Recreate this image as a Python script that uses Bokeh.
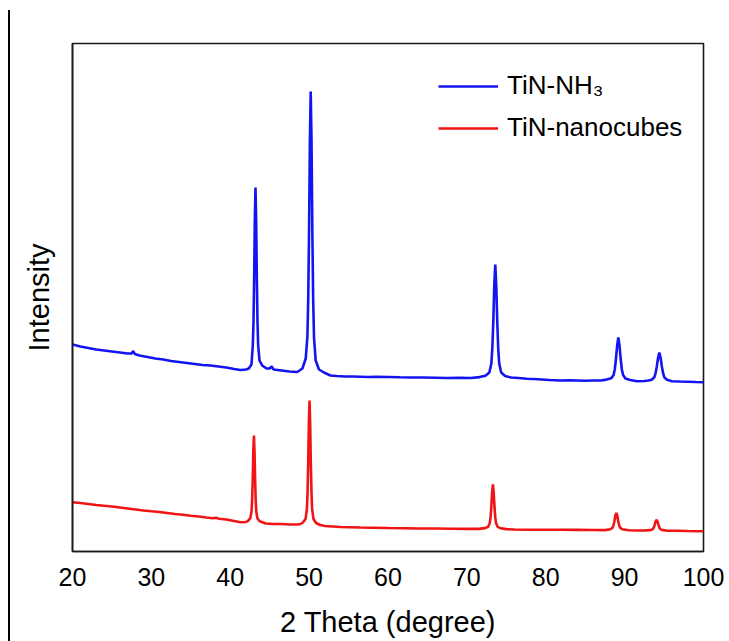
from bokeh.plotting import figure
from bokeh.models import Range1d, FixedTicker, Legend, LegendItem, Div
from bokeh.layouts import row
from bokeh.embed import file_html
from bokeh.resources import INLINE

# XRD patterns: 2-theta (degree) and intensity (a.u.)
nh3_two_theta = [
    20.0, 21.0, 22.0, 23.0, 24.0, 25.0, 26.0, 27.0, 27.5, 27.7, 27.9, 28.5, 29.5,
    30.5, 31.5, 32.5, 33.5, 34.5, 35.5, 36.5, 37.5, 38.5, 39.5, 40.5, 41.3, 42.0,
    42.35, 42.69, 42.86, 42.945, 43.03, 43.115, 43.2, 43.285, 43.37, 43.455, 43.54,
    43.71, 44.05, 44.6, 45.0, 45.25, 45.5, 46.5, 47.5, 48.5,
    49.15, 49.57, 49.78, 49.885, 49.99, 50.095, 50.2, 50.305, 50.41, 50.515, 50.62,
    50.83, 51.25, 51.88, 52.7, 53.5, 54.5, 55.5, 56.5, 57.5, 58.5, 60.0, 61.5, 63.0,
    64.5, 66.0, 67.5, 69.0, 70.5, 71.6,
    72.35, 72.85, 73.1, 73.225, 73.35, 73.475, 73.6, 73.725, 73.85, 73.975, 74.1,
    74.35, 74.85, 75.6, 76.5, 77.6, 78.5, 79.5, 80.5, 81.9, 83.0, 84.0, 85.0, 86.0,
    87.0, 87.7, 88.3, 88.6, 88.75, 88.9, 89.05, 89.2, 89.35, 89.5, 89.65, 89.8, 90.1,
    90.7, 91.6, 92.5, 93.0, 93.425, 93.75, 93.91, 94.075, 94.24, 94.4, 94.56, 94.725,
    94.89, 95.05, 95.375, 96.0, 97.0, 98.0, 99.0, 100.0,
]
nh3_intensity = [
    207.0, 205.0, 203.5, 202.0, 201.0, 200.0, 199.0, 198.0, 198.0, 200.5, 197.5, 196.0, 194.5,
    193.0, 192.0, 190.5, 189.5, 188.5, 187.5, 186.5, 186.0, 185.0, 184.0, 182.5, 181.5, 182.0,
    183.0, 187.0, 206.0, 229.0, 273.0, 331.0, 364.0, 331.0, 273.0, 229.0, 206.0,
    191.0, 186.0, 183.0, 183.0, 185.0, 182.0, 181.0, 180.0, 179.5,
    183.0, 193.0, 215.0, 252.0, 319.0, 409.0, 460.0, 409.0, 319.0, 251.0, 214.0,
    191.0, 182.0, 179.0, 176.0, 175.5, 175.0, 175.0, 174.8, 174.5, 174.8, 174.5, 174.2, 174.0,
    174.0, 173.8, 173.5, 173.7, 173.5, 174.4,
    175.8, 179.0, 188.0, 203.0, 230.0, 266.0, 287.0, 266.0, 230.0, 203.0, 188.0,
    179.0, 175.5, 174.0, 173.5, 172.7, 172.5, 172.0, 171.5, 171.0, 171.2, 171.0, 170.8, 171.0,
    171.0, 171.9, 173.2, 176.6, 182.0, 192.5, 206.0, 214.0, 206.0, 192.5, 182.0, 176.6, 173.0,
    171.5, 170.3, 170.5, 171.0, 171.7, 174.0, 177.8, 184.7, 193.8, 199.0, 193.8, 184.7,
    177.8, 174.0, 171.7, 170.3, 170.0, 169.8, 169.5, 169.3,
]

cubes_two_theta = [
    20.0, 21.0, 22.0, 23.0, 24.0, 25.0, 26.0, 27.0, 28.0, 29.0, 30.0, 31.0, 32.0,
    33.0, 34.0, 35.0, 36.0, 37.0, 37.8, 38.2, 38.6, 39.5, 40.5, 41.3, 42.0,
    42.25, 42.55, 42.7, 42.775, 42.85, 42.925, 43.0, 43.075, 43.15, 43.225, 43.3,
    43.45, 43.75, 44.5, 45.5, 46.5, 47.5, 48.5, 48.9,
    49.225, 49.555, 49.72, 49.8, 49.885, 49.97, 50.05, 50.13, 50.215, 50.3, 50.38,
    50.545, 50.875, 51.4, 52.0, 53.0, 54.0, 55.2, 56.5, 58.0, 60.0, 62.0, 64.0,
    66.0, 68.0, 70.0, 71.5,
    72.3, 72.7, 72.9, 73.0, 73.1, 73.2, 73.3, 73.4, 73.5, 73.6, 73.7, 73.9, 74.3,
    75.0, 76.0, 78.0, 80.0, 82.0, 84.0, 86.0, 87.5,
    88.2, 88.45, 88.575, 88.7, 88.825, 88.95, 89.075, 89.2, 89.325, 89.45, 89.7,
    90.5, 91.5, 92.5, 93.3, 93.55, 93.675, 93.8, 93.925, 94.05, 94.175, 94.3,
    94.425, 94.55, 94.8, 95.5, 96.5, 98.0, 100.0,
]
cubes_intensity = [
    49.3, 48.5, 47.5, 46.5, 45.8, 45.0, 44.0, 43.0, 42.0, 41.0, 40.2, 39.5, 38.5,
    37.5, 36.7, 35.8, 35.0, 34.0, 33.3, 33.8, 32.8, 32.0, 30.5, 29.3, 29.5,
    30.7, 33.4, 40.3, 51.6, 72.5, 100.3, 116.0, 100.3, 72.5, 51.6, 40.0,
    33.0, 30.2, 28.0, 27.5, 27.5, 27.0, 27.0, 27.5,
    29.0, 32.7, 42.7, 59.0, 88.5, 128.5, 151.0, 128.5, 88.5, 59.0, 42.7,
    32.7, 28.5, 26.5, 25.5, 25.0, 24.5, 24.3, 24.0, 23.8, 23.5, 23.3, 23.0,
    23.0, 22.7, 22.6, 22.6,
    23.4, 24.7, 28.3, 34.1, 44.8, 59.0, 67.0, 59.0, 44.8, 34.1, 28.3, 24.7, 23.2,
    22.4, 22.0, 21.8, 21.7, 21.7, 21.6, 21.5, 21.4,
    22.2, 23.6, 25.8, 30.0, 35.6, 38.7, 35.6, 30.0, 25.8, 23.6, 22.2,
    21.2, 21.0, 21.0, 21.4, 22.2, 23.6, 26.3, 29.8, 31.7, 29.8, 26.3,
    23.6, 22.2, 21.4, 20.8, 20.7, 20.5, 20.3,
]

series_labels = ["TiN-NH\u2083", "TiN-nanocubes"]
series_colors = ["#1414F0", "#F01414"]
x_ticks = [20, 30, 40, 50, 60, 70, 80, 90, 100]

FONT = "Liberation Sans"

p = figure(
    width=717, height=641,
    x_range=Range1d(20, 100), y_range=Range1d(0, 508),
    output_backend="svg", toolbar_location=None,
    min_border_left=60, min_border_right=26,
    min_border_top=43, min_border_bottom=90,
)
p.background_fill_color = "white"
p.border_fill_color = "white"
p.grid.visible = False
p.outline_line_color = "#1a1a1a"
p.outline_line_width = 1.6

r_nh3 = p.line(nh3_two_theta, nh3_intensity, line_color=series_colors[0], line_width=2.6)
r_cubes = p.line(cubes_two_theta, cubes_intensity, line_color=series_colors[1], line_width=2.6)

# x axis: labels only, no tick marks
xa = p.xaxis[0]
xa.ticker = FixedTicker(ticks=x_ticks)
xa.major_tick_in = 0
xa.major_tick_out = 0
xa.minor_tick_line_color = None
xa.major_tick_line_color = None
xa.axis_line_color = "#1a1a1a"
xa.axis_line_width = 1.6
xa.major_label_text_font = FONT
xa.major_label_text_font_size = "25px"
xa.major_label_text_color = "black"
xa.major_label_standoff = 16
xa.axis_label = "2 Theta (degree)"
xa.axis_label_text_font = FONT
xa.axis_label_text_font_size = "29px"
xa.axis_label_text_font_style = "normal"
xa.axis_label_text_color = "black"
xa.axis_label_text_line_height = 0.8
xa.axis_label_standoff = 17

# y axis: title only
ya = p.yaxis[0]
ya.ticker = FixedTicker(ticks=[])
ya.major_tick_in = 0
ya.major_tick_out = 0
ya.minor_tick_line_color = None
ya.major_label_text_font_size = "0px"
ya.axis_line_color = "#1a1a1a"
ya.axis_line_width = 1.6
ya.axis_label = "Intensity"
ya.axis_label_text_font = FONT
ya.axis_label_text_font_size = "29px"
ya.axis_label_text_font_style = "normal"
ya.axis_label_text_color = "black"
ya.axis_label_standoff = 18

legend = Legend(
    items=[LegendItem(label=series_labels[0], renderers=[r_nh3]),
           LegendItem(label=series_labels[1], renderers=[r_cubes])],
    location=(366, 408),
    label_text_font=FONT, label_text_font_size="26px", label_text_color="black",
    glyph_width=60, glyph_height=30, label_height=30, label_standoff=9,
    spacing=11, padding=0, margin=0,
    border_line_color=None, background_fill_alpha=0,
)
p.add_layout(legend)

# thin rule down the left edge of the panel
edge = Div(
    width=12, height=641, margin=0,
    text='<div style="width:2px;height:631px;margin:0 0 0 8px;'
         'position:relative;top:10px;background:#000;"></div>',
)

layout = row(edge, p, spacing=0)

open("out.html", "w").write(file_html(layout, INLINE))
